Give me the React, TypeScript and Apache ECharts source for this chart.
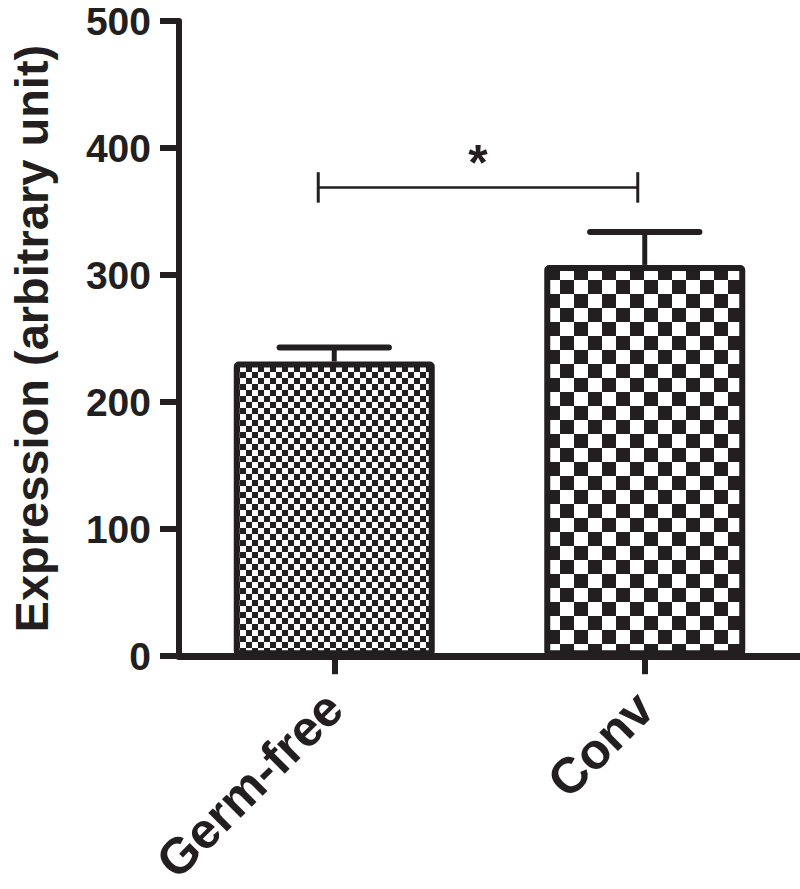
import React, { useEffect, useRef } from "react";
import * as echarts from "echarts";

const categories = ["Germ-free", "Conv"];
const means = [232, 308];
const upperErrors = [243, 334];
const yTicks = [0, 100, 200, 300, 400, 500];
const bracketValue = 369;
const bracketTickHalf = 12;
const starValue = 394;
const starLabel = "*";
const yTitle = "Expression (arbitrary unit)";

const INK = "#231f20";
const FONT = "'Liberation Sans', Arial, Helvetica, sans-serif";

function checker(size: number) {
  const c = document.createElement("canvas");
  c.width = size * 2;
  c.height = size * 2;
  const ctx = c.getContext("2d")!;
  ctx.fillStyle = "#ffffff";
  ctx.fillRect(0, 0, size * 2, size * 2);
  ctx.fillStyle = INK;
  ctx.fillRect(0, 0, size, size);
  ctx.fillRect(size, size, size, size);
  return { image: c, repeat: "repeat", imageWidth: size * 2, imageHeight: size * 2 } as any;
}

export default function App() {
  const ref = useRef<HTMLDivElement>(null);
  useEffect(() => {
    if (!ref.current) return;
    const chart = echarts.init(ref.current, null, { renderer: "svg" });
    const patterns = [checker(6), checker(14)];
    const option: any = {
      animation: false,
      backgroundColor: "#ffffff",
      grid: { left: 175, right: 0, top: 21, bottom: 232, containLabel: false },
      xAxis: {
        type: "category",
        data: categories,
        axisLine: { show: true, lineStyle: { color: INK, width: 7 } },
        axisTick: { show: true, alignWithLabel: true, length: 18, lineStyle: { color: INK, width: 6 } },
        axisLabel: {
          rotate: 45,
          margin: 44,
          color: INK,
          fontSize: 50,
          fontWeight: "bold",
          fontFamily: FONT,
        },
        splitLine: { show: false },
      },
      yAxis: {
        type: "value",
        min: yTicks[0],
        max: yTicks[yTicks.length - 1],
        interval: 100,
        name: yTitle,
        nameLocation: "middle",
        nameGap: 124,
        nameTextStyle: { color: INK, fontSize: 47, fontWeight: "bold", fontFamily: FONT },
        axisLine: { show: true, lineStyle: { color: INK, width: 6 } },
        axisTick: { show: true, length: 19, lineStyle: { color: INK, width: 6 } },
        axisLabel: {
          margin: 28,
          color: INK,
          fontSize: 39,
          lineHeight: 32,
          fontWeight: "bold",
          fontFamily: FONT,
        },
        splitLine: { show: false },
      },
      series: [
        {
          type: "bar",
          barWidth: 201,
          z: 2,
          data: means.map((v, i) => ({
            value: v,
            itemStyle: {
              color: patterns[i],
              borderColor: INK,
              borderWidth: 6,
              borderJoin: "round",
              borderRadius: 2,
            },
          })),
        },
        {
          type: "custom",
          z: 3,
          clip: false,
          data: means.map((m, i) => [i, m, upperErrors[i]]),
          encode: { x: 0, y: [1, 2] },
          renderItem: (params: any, api: any) => {
            const x = api.value(0);
            const base = api.coord([x, api.value(1)]);
            const top = api.coord([x, api.value(2)]);
            const half = api.size([1, 0])[0] * 0.176;
            return {
              type: "group",
              children: [
                {
                  type: "line",
                  shape: { x1: base[0], y1: base[1], x2: top[0], y2: top[1] },
                  style: { stroke: INK, lineWidth: 5 },
                },
                {
                  type: "line",
                  shape: { x1: top[0] - half, y1: top[1], x2: top[0] + half, y2: top[1] },
                  style: { stroke: INK, lineWidth: 6, lineCap: "round" },
                },
              ],
            };
          },
        },
        {
          type: "custom",
          z: 3,
          clip: false,
          data: [[0, 1, bracketValue]],
          encode: { x: [0, 1], y: 2 },
          renderItem: (params: any, api: any) => {
            const a = api.coord([api.value(0), api.value(2)]);
            const b = api.coord([api.value(1), api.value(2)]);
            const hi = api.coord([0, api.value(2) + bracketTickHalf])[1];
            const lo = api.coord([0, api.value(2) - bracketTickHalf])[1];
            const star = api.coord([0, starValue])[1];
            const x1 = a[0] - 16;
            const x2 = b[0] - 7;
            return {
              type: "group",
              children: [
                { type: "line", shape: { x1, y1: a[1], x2, y2: b[1] }, style: { stroke: INK, lineWidth: 2.5 } },
                { type: "line", shape: { x1, y1: hi, x2: x1, y2: lo }, style: { stroke: INK, lineWidth: 3 } },
                { type: "line", shape: { x1: x2, y1: hi, x2, y2: lo }, style: { stroke: INK, lineWidth: 3 } },
                {
                  type: "text",
                  x: (x1 + x2) / 2,
                  y: star + 7,
                  style: {
                    text: starLabel,
                    fill: INK,
                    fontSize: 50,
                    fontWeight: "bold",
                    fontFamily: FONT,
                    textAlign: "center",
                    textVerticalAlign: "middle",
                  },
                },
              ],
            };
          },
        },
      ],
    };
    chart.setOption(option);
    return () => chart.dispose();
  }, []);
  return (
    <div
      ref={ref}
      style={{ position: "fixed", left: 0, top: 0, width: 800, height: 889, background: "#fff" }}
    />
  );
}
